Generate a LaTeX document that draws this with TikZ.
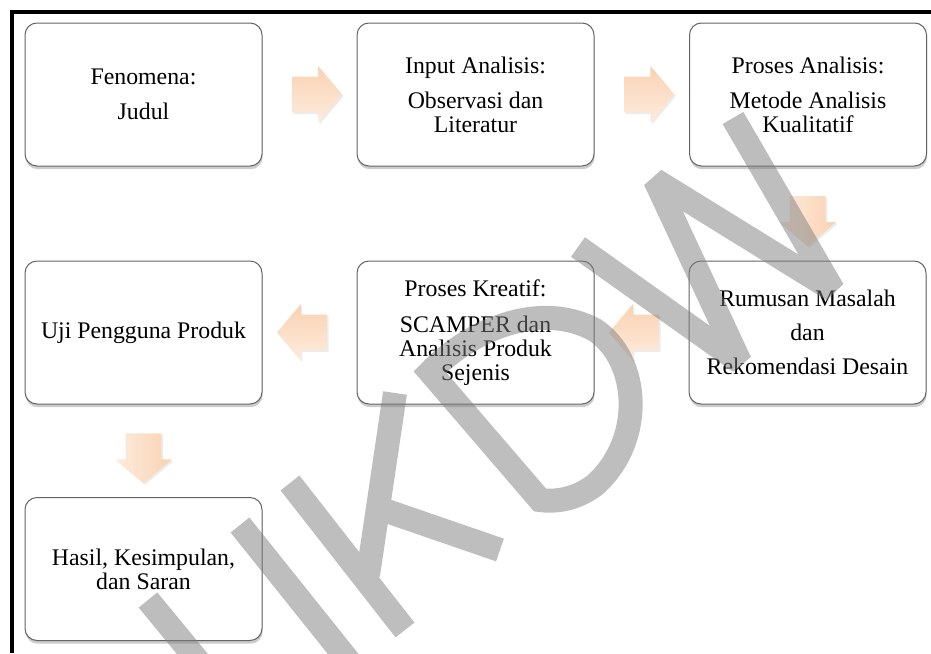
\documentclass[tikz,border=0pt]{standalone}
\usepackage{fontspec}
\setmainfont{Liberation Serif}
\usetikzlibrary{calc,shapes.arrows,shadows}

\definecolor{peachdark}{RGB}{250,210,178}
\definecolor{peachlight}{RGB}{253,236,222}
\definecolor{boxline}{RGB}{100,100,100}
\definecolor{wmgray}{RGB}{125,125,125}

\begin{document}
\begin{tikzpicture}[x=0.5pt,y=-0.5pt,
  stage/.style={draw=boxline, line width=0.5pt, fill=white, rounded corners=6pt,
    minimum width=118.5pt, minimum height=71.5pt, align=center, inner sep=2pt,
    font=\fontsize{11.9pt}{12pt}\selectfont,
    drop shadow={shadow xshift=0.3pt, shadow yshift=-1.6pt, opacity=0.4}},
  flow/.style={single arrow, draw=none, inner xsep=0pt, inner ysep=8.75pt,
    single arrow head extend=5.25pt, single arrow tip angle=100,
    minimum height=25pt,
    drop shadow={shadow xshift=0.8pt, shadow yshift=-0.8pt, opacity=0.15}},
  flowh/.style={flow, top color=peachdark, bottom color=peachlight},
  flowv/.style={flow, rotate=-90, left color=peachlight, right color=peachdark},
  wmark/.style={draw=wmgray, draw opacity=0.5, line width=12pt,
    line join=miter, miter limit=2}]
  \useasboundingbox (0,0) rectangle (931,653);

  % frame
  \draw[line width=2pt] (12,653) -- (12,12) -- (931,12);

  % stages
  \node[stage] (fenomena) at (143.5,94.5) {Fenomena:\\[5.5pt]Judul};
  \node[stage] (input) at (475.5,94.5) {Input Analisis:\\[5.5pt]Observasi dan\\Literatur};
  \node[stage] (analisis) at (808,94.5) {Proses Analisis:\\[5.5pt]Metode Analisis\\Kualitatif};
  \node[stage] (rumusan) at (807.5,332.5) {Rumusan Masalah\\[5pt]dan\\[5pt]Rekomendasi Desain};
  \node[stage] (kreatif) at (475.5,332.5) {Proses Kreatif:\\[6pt]SCAMPER dan\\Analisis Produk\\Sejenis};
  \node[stage] (uji) at (143.5,332.5) {Uji Pengguna Produk};
  \node[stage] (hasil) at (143.5,569) {Hasil, Kesimpulan,\\dan Saran};

  % arrows between stages
  \node[flowh] (a1) at ($(fenomena.east)!0.5!(input.west)$) {};
  \node[flowh] (a2) at ($(input.east)!0.5!(analisis.west)$) {};
  \node[flowv] (a3) at ($(analisis.south)!0.5!(rumusan.north)$) {};
  \node[flowh, shape border rotate=180] (a4) at ($(rumusan.west)!0.5!(kreatif.east)$) {};
  \node[flowh, shape border rotate=180] (a5) at ($(kreatif.west)!0.5!(uji.east)$) {};
  \node[flowv] (a6) at ($(uji.south)!0.5!(hasil.north)$) {};

  % watermark
  \begin{scope}
    \clip (0,0) rectangle (931,653);
    \draw[wmark] (148,600) -- (222,690)
      (240,525) -- (352,665)
      (290,483) -- (405,630)
      (395,393) -- (368,575)
      (378,508) -- (500,550)
      (540,500) -- (430,372) .. controls (470,330) and (540,300) .. (595,330)
        .. controls (640,360) and (645,440) .. (595,485)
        .. controls (575,500) and (555,502) .. cycle
      (578,247) -- (740,362) -- (655,180) -- (833,290) -- (733,118);
  \end{scope}
\end{tikzpicture}
\end{document}
